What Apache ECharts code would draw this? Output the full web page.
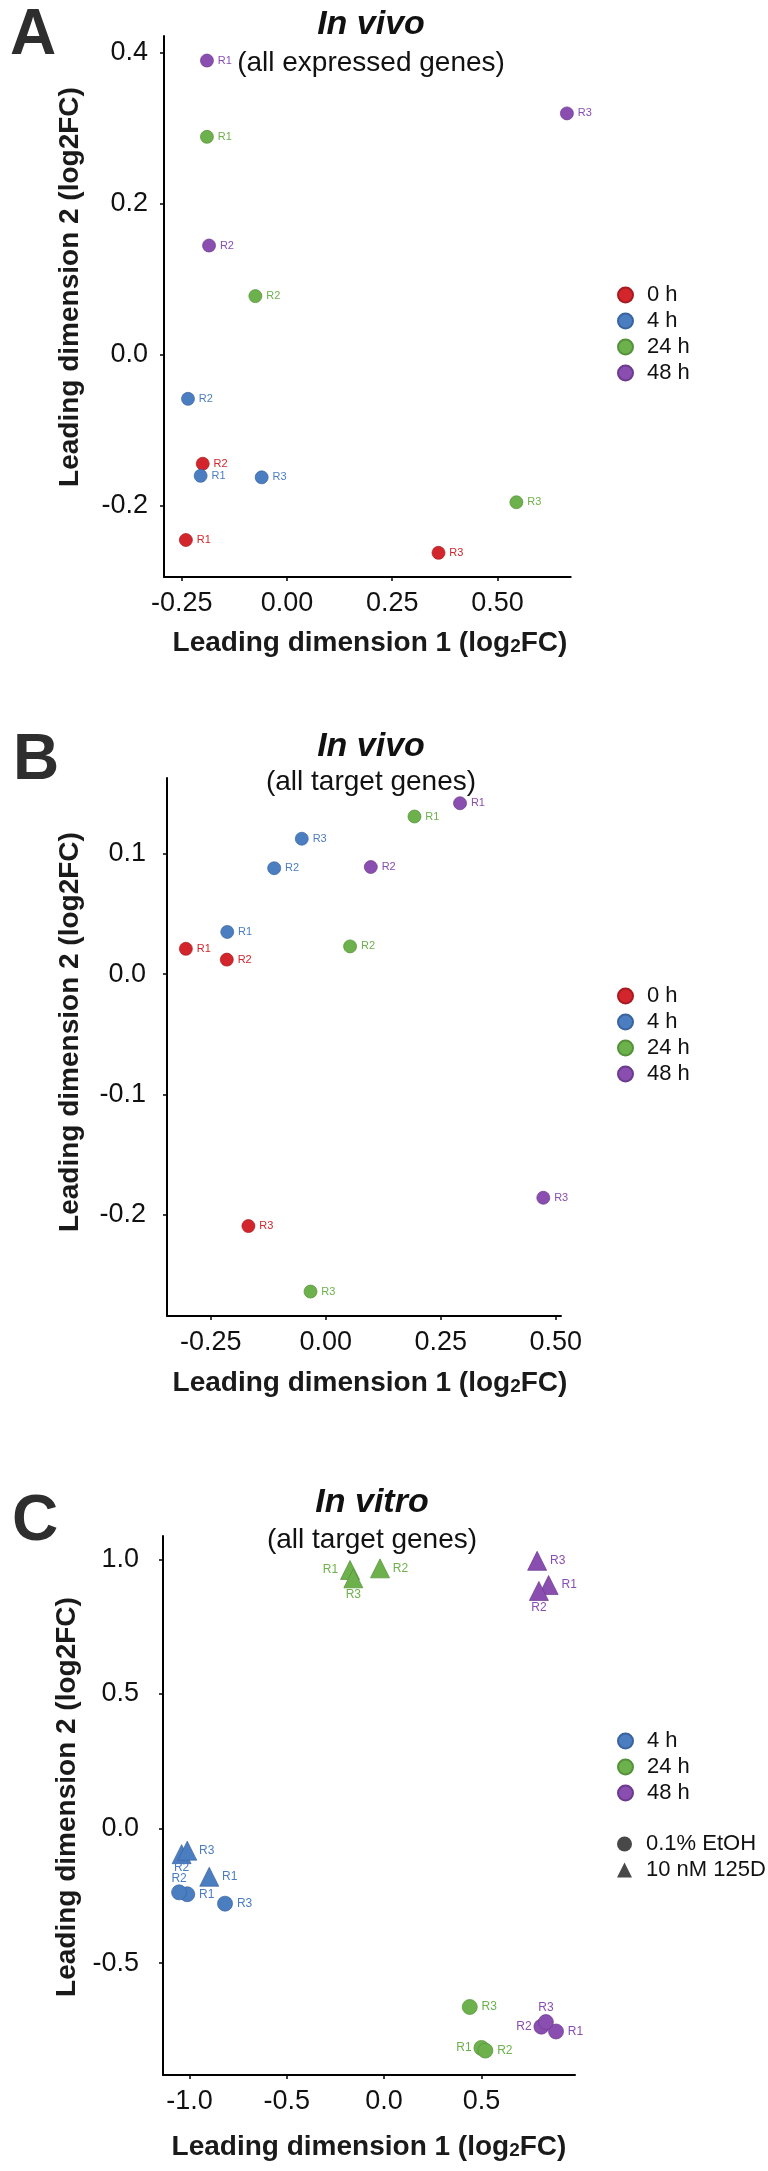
<!DOCTYPE html>
<html><head><meta charset="utf-8">
<script src="https://cdn.jsdelivr.net/npm/echarts@6/dist/echarts.min.js"></script>
<style>html,body{margin:0;padding:0;background:#fff}#c{width:768px;height:2171px}</style>
</head><body><div id="c"></div>
<script>
// ---------- data ----------
const replicates = ['R1', 'R2', 'R3'];
const timesInVivo = ['0 h', '4 h', '24 h', '48 h'];
const timesInVitro = ['4 h', '24 h', '48 h'];
const treatments = ['0.1% EtOH', '10 nM 125D'];

// Panel A: in vivo, all expressed genes  [dim1, dim2] for R1, R2, R3
const A_0h  = [[-0.24, -0.245], [-0.20, -0.144], [0.36, -0.262]];
const A_4h  = [[-0.205, -0.160], [-0.235, -0.058], [-0.06, -0.162]];
const A_24h = [[-0.19, 0.289], [-0.075, 0.078], [0.545, -0.195]];
const A_48h = [[-0.19, 0.39], [-0.185, 0.145], [0.665, 0.32]];
const A_xTicks = [-0.25, 0, 0.25, 0.5];
const A_yTicks = [-0.2, 0, 0.2, 0.4];

// Panel B: in vivo, all target genes
const B_0h  = [[-0.304, 0.021], [-0.215, 0.012], [-0.168, -0.2095]];
const B_4h  = [[-0.214, 0.035], [-0.112, 0.088], [-0.052, 0.1125]];
const B_24h = [[0.193, 0.131], [0.053, 0.023], [-0.033, -0.264]];
const B_48h = [[0.292, 0.142], [0.098, 0.089], [0.473, -0.186]];
const B_xTicks = [-0.25, 0, 0.25, 0.5];
const B_yTicks = [-0.2, -0.1, 0, 0.1];

// Panel C: in vitro, all target genes (circle = 0.1% EtOH, triangle = 10 nM 125D)
const C_4h_EtOH  = [[-1.011, -0.244], [-1.053, -0.237], [-0.817, -0.279]];
const C_4h_125D  = [[-0.898, -0.179], [-1.04, -0.095], [-1.011, -0.082]];
const C_24h_EtOH = [[0.50, -0.815], [0.52, -0.825], [0.44, -0.663]];
const C_24h_125D = [[-0.175, 0.961], [-0.021, 0.967], [-0.158, 0.930]];
const C_48h_EtOH = [[0.883, -0.754], [0.808, -0.736], [0.831, -0.719]];
const C_48h_125D = [[0.845, 0.905], [0.795, 0.883], [0.786, 0.995]];
const C_xTicks = [-1, -0.5, 0, 0.5];
const C_yTicks = [-0.5, 0, 0.5, 1];

// ---------- styling ----------
const FF = '"Liberation Sans", Arial, Helvetica, sans-serif';
const COL = { '0 h': '#d2262c', '4 h': '#4b7dc1', '24 h': '#6cb14b', '48 h': '#8a4db0' };
const BORDER = { '0 h': '#a81a1f', '4 h': '#3a64a0', '24 h': '#55913a', '48 h': '#6c3a8e' };
// label placement for crowded panel C (per replicate R1,R2,R3): [side, distance]
const C_labelSide = {
  '4h_EtOH': [['right', 4], ['top', 0], ['right', 4]],
  '4h_125D': [['right', 3], ['bottom', -2], ['right', 2]],
  '24h_EtOH': [['left', 2], ['right', 4], ['right', 4]],
  '24h_125D': [['left', 2], ['right', 3], ['bottom', 1]],
  '48h_EtOH': [['right', 4], ['left', 2], ['top', 1]],
  '48h_125D': [['right', 3], ['bottom', 1], ['right', 3]]
};

function mk(time, pts, g, symbol, size, fs, sides) {
  return {
    type: 'scatter', name: time, xAxisIndex: g, yAxisIndex: g,
    symbol: symbol, symbolSize: size,
    itemStyle: { color: COL[time], borderColor: BORDER[time], borderWidth: 0.7, opacity: 1 },
    label: { show: true, formatter: '{b}', position: 'right', distance: 4,
             color: COL[time], fontSize: fs, fontFamily: FF },
    emphasis: { disabled: true },
    data: pts.map((p, i) => {
      const d = { name: replicates[i], value: p };
      if (sides) d.label = { position: sides[i][0], distance: sides[i][1] };
      return d;
    })
  };
}

function xAx(g, min, max, ticks, dec) {
  return {
    type: 'value', gridIndex: g, min: min, max: max,
    axisLine: { show: true, onZero: false, lineStyle: { color: '#000', width: 2 } },
    axisTick: { show: true, length: 4, customValues: ticks, lineStyle: { color: '#000', width: 1.5 } },
    axisLabel: { customValues: ticks, formatter: v => v.toFixed(dec), margin: 13,
                 fontSize: 27, color: '#111', fontFamily: FF },
    splitLine: { show: false }
  };
}
function yAx(g, min, max, ticks, dec, margin) {
  return {
    type: 'value', gridIndex: g, min: min, max: max,
    axisLine: { show: true, onZero: false, lineStyle: { color: '#000', width: 2 } },
    axisTick: { show: true, length: 4, customValues: ticks, lineStyle: { color: '#000', width: 1.5 } },
    axisLabel: { customValues: ticks, formatter: v => v.toFixed(dec), margin: margin,
                 fontSize: 27, color: '#111', fontFamily: FF },
    splitLine: { show: false }
  };
}

function txt(x, y, text, font, opts) {
  return Object.assign({
    type: 'text', x: x, y: y, silent: true,
    style: { text: text, font: font, fill: '#111', textAlign: 'center', textVerticalAlign: 'middle' }
  }, opts || {});
}
const xTitleRich = {
  a: { fontSize: 28, fontWeight: 'bold', fontFamily: FF, fill: '#1a1a1a', verticalAlign: 'bottom' },
  s: { fontSize: 19, fontWeight: 'bold', fontFamily: FF, fill: '#1a1a1a', verticalAlign: 'bottom', padding: [0, 0, 1, 0] }
};
function xTitle(x, y) {
  return { type: 'text', x: x, y: y, silent: true,
    style: { text: '{a|Leading dimension 1 (log}{s|2}{a|FC)}', rich: xTitleRich,
             textAlign: 'center', textVerticalAlign: 'middle' } };
}
function yTitle(x, y) {
  return { type: 'text', x: x, y: y, rotation: Math.PI / 2, silent: true,
    style: { text: 'Leading dimension 2 (log2FC)', font: 'bold 28px ' + FF, fill: '#1a1a1a',
             textAlign: 'center', textVerticalAlign: 'middle' } };
}
const letterFont = 'bold 64px ' + FF;
const titleFont = 'italic bold 34px ' + FF;
const subFont = '28px ' + FF;

const legendBase = {
  orient: 'vertical', left: 612, itemWidth: 15, itemHeight: 15, itemGap: 4,
  selectedMode: false, icon: 'circle',
  formatter: n => '{t|' + n + '}',
  textStyle: { fontSize: 22, color: '#111', fontFamily: FF,
               rich: { t: { fontSize: 22, fontFamily: FF, color: '#111', padding: [0, 0, 0, 9] } } }
};

const series = [];
[A_0h, A_4h, A_24h, A_48h].forEach((d, i) => series.push(mk(timesInVivo[i], d, 0, 'circle', 13, 11)));
[B_0h, B_4h, B_24h, B_48h].forEach((d, i) => series.push(mk(timesInVivo[i], d, 1, 'circle', 13, 11)));
series.push(mk('4 h', C_4h_EtOH, 2, 'circle', 15, 12, C_labelSide['4h_EtOH']));
series.push(mk('4 h', C_4h_125D, 2, 'triangle', 19, 12, C_labelSide['4h_125D']));
series.push(mk('24 h', C_24h_EtOH, 2, 'circle', 15, 12, C_labelSide['24h_EtOH']));
series.push(mk('24 h', C_24h_125D, 2, 'triangle', 19, 12, C_labelSide['24h_125D']));
series.push(mk('48 h', C_48h_EtOH, 2, 'circle', 15, 12, C_labelSide['48h_EtOH']));
series.push(mk('48 h', C_48h_125D, 2, 'triangle', 19, 12, C_labelSide['48h_125D']));
// shape key entries for panel C legend
series.push({ type: 'scatter', name: treatments[0], xAxisIndex: 2, yAxisIndex: 2, symbol: 'circle', itemStyle: { color: '#1a1a1a' }, data: [] });
series.push({ type: 'scatter', name: treatments[1], xAxisIndex: 2, yAxisIndex: 2, symbol: 'triangle', itemStyle: { color: '#1a1a1a' }, data: [] });

const option = {
  backgroundColor: '#fff',
  animation: false,
  grid: [
    { left: 164, top: 36, width: 406.7, height: 541 },
    { left: 167, top: 778, width: 394, height: 538 },
    { left: 163, top: 1536, width: 412, height: 539 }
  ],
  xAxis: [
    xAx(0, -0.292, 0.674, A_xTicks, 2),
    xAx(1, -0.345, 0.5115, B_xTicks, 2),
    xAx(2, -1.1356, 0.9805, C_xTicks, 1)
  ],
  yAxis: [
    yAx(0, -0.294, 0.4225, A_yTicks, 1, 16),
    yAx(1, -0.2843, 0.163, B_yTicks, 1, 21),
    yAx(2, -0.9157, 1.0873, C_yTicks, 1, 24)
  ],
  legend: [
    Object.assign({}, legendBase, { top: 279, data: timesInVivo }),
    Object.assign({}, legendBase, { top: 980, data: timesInVivo }),
    Object.assign({}, legendBase, { top: 1725, data: timesInVitro }),
    Object.assign({}, legendBase, { top: 1828, data: [
      { name: treatments[0], icon: 'circle', itemStyle: { color: '#1a1a1a' } },
      { name: treatments[1], icon: 'triangle', itemStyle: { color: '#1a1a1a' } }
    ] })
  ],
  graphic: [
    txt(10, 36, 'A', letterFont, { style: { text: 'A', font: letterFont, fill: '#2e2e2e', textAlign: 'left', textVerticalAlign: 'middle' } }),
    txt(371, 25, 'In vivo', titleFont),
    txt(371, 63, '(all expressed genes)', subFont),
    xTitle(370, 643),
    yTitle(70, 287),

    txt(13, 761, 'B', letterFont, { style: { text: 'B', font: letterFont, fill: '#2e2e2e', textAlign: 'left', textVerticalAlign: 'middle' } }),
    txt(371, 747, 'In vivo', titleFont),
    txt(371, 782, '(all target genes)', subFont),
    xTitle(370, 1383),
    yTitle(70, 1032),

    txt(12, 1522, 'C', letterFont, { style: { text: 'C', font: letterFont, fill: '#2e2e2e', textAlign: 'left', textVerticalAlign: 'middle' } }),
    txt(372, 1503, 'In vitro', titleFont),
    txt(372, 1540, '(all target genes)', subFont),
    xTitle(369, 2147),
    yTitle(67, 1797)
  ],
  series: series
};

const chart = echarts.init(document.getElementById('c'), null, { renderer: 'canvas' });
chart.setOption(option);
</script>
</body></html>
